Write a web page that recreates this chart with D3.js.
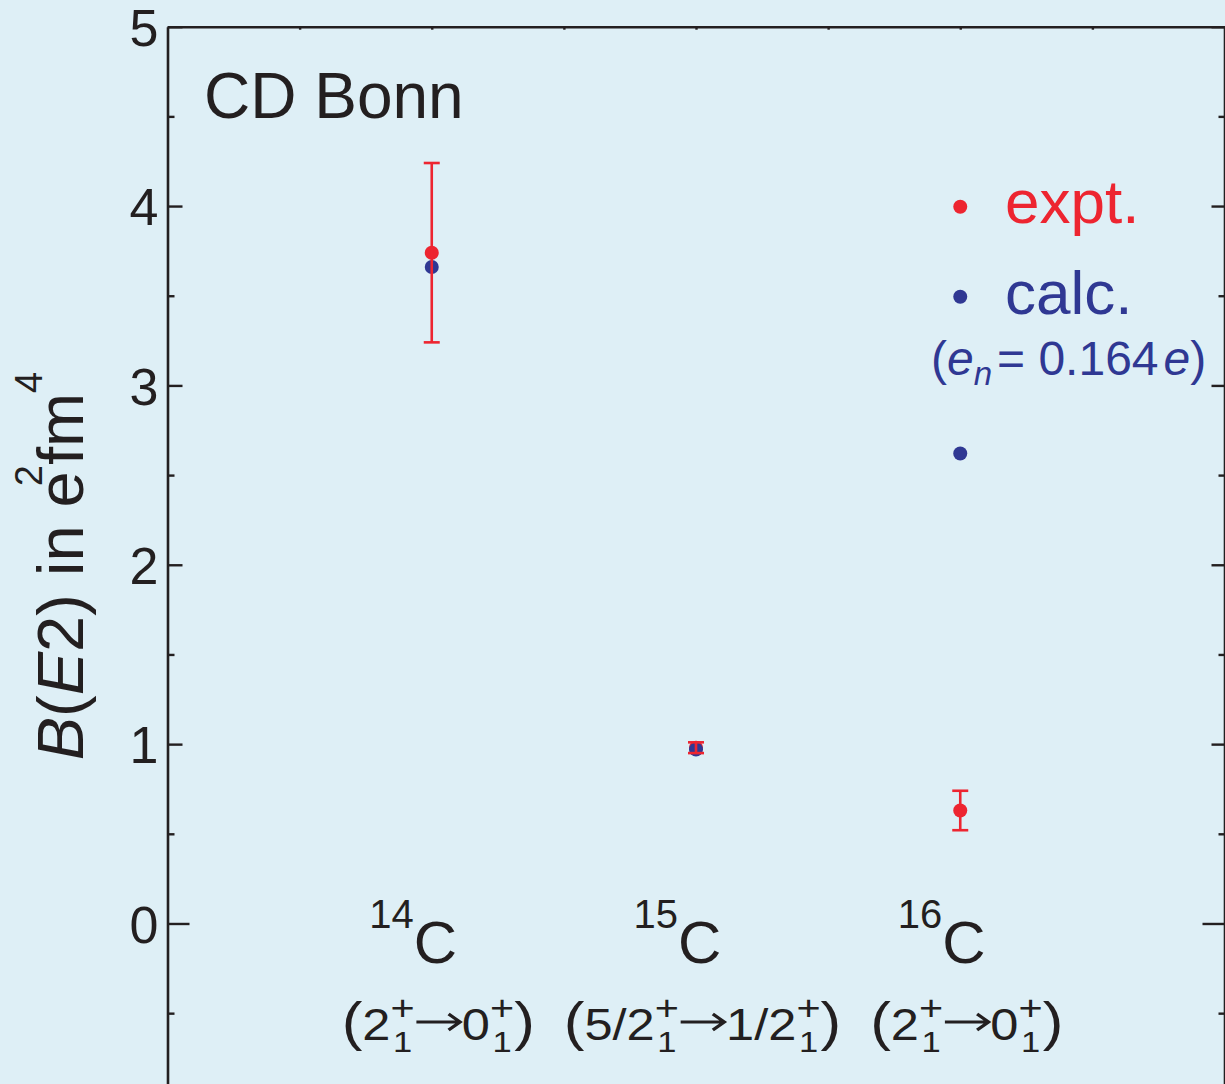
<!DOCTYPE html>
<html>
<head>
<meta charset="utf-8">
<script src="https://cdn.jsdelivr.net/npm/d3@7"></script>
<style>
  html, body { margin: 0; padding: 0; background: #deeff6; }
  svg { display: block; }
  text { font-family: 'Liberation Sans', Arial, Helvetica, sans-serif; }
</style>
</head>
<body>
<script>
// B(E2) values for the carbon isotopes (units: e^2 fm^4)
const massNumbers = ["14", "15", "16"];
const element = "C";
const initialStates = ["2", "5/2", "2"];
const finalStates = ["0", "1/2", "0"];
const exptValues = [3.74, 0.98, 0.63];
const exptErrors = [0.50, 0.03, 0.11];
const calcValues = [3.66, 0.97, 2.62];
const majorTicks = [0, 1, 2, 3, 4, 5];
const minorTicks = [-0.5, 0.5, 1.5, 2.5, 3.5, 4.5];
const topTicks = [0.5, 1, 1.5, 2, 2.5, 3, 3.5];

const W = 1225, H = 1084;
const BG = "#deeff6", INK = "#231f20", RED = "#ed2530", BLUE = "#2f3893";

const svg = d3.select("body").append("svg").attr("width", W).attr("height", H);
svg.append("rect").attr("width", W).attr("height", H).attr("fill", BG);

const x = d3.scaleLinear().domain([0, 4]).range([167.5, 1224.5]);
const y = d3.scaleLinear().domain([-0.9, 5]).range([1084.9, 26.7]);

// Lay out a run of text pieces (super/subscripts, stacked indices, arrows)
// along a baseline and place it centred (or starting) at the given point.
function richText(parent, pieces, px, py, opts = {}) {
  const fill = opts.fill || INK;
  const g = parent.append("g").attr("fill", fill);
  let cursor = 0;
  const put = (p, at, anchor) => {
    const t = g.append("text")
      .attr("x", at + (p.dx || 0))
      .attr("y", p.shift || 0)
      .attr("text-anchor", anchor || "start")
      .style("font-size", p.size + "px")
      .style("font-style", p.italic ? "italic" : "normal")
      .text(p.text);
    return t.node().getComputedTextLength() + (p.dx || 0);
  };
  pieces.forEach(p => {
    if (p.stack) {
      const w = d3.max(p.stack, s => {
        const probe = g.append("text").style("font-size", s.size + "px").text(s.text);
        const len = probe.node().getComputedTextLength();
        probe.remove();
        return len;
      });
      p.stack.forEach(s => put(s, cursor + w / 2, "middle"));
      cursor += w;
    } else if (p.arrow) {
      const x0 = cursor + p.gap, x1 = x0 + p.arrow, ay = p.shift;
      g.append("path")
        .attr("d", `M${x0},${ay}H${x1 - 1}M${x1 - p.head},${ay - p.spread}L${x1},${ay}L${x1 - p.head},${ay + p.spread}`)
        .attr("fill", "none").attr("stroke", fill).attr("stroke-width", p.weight);
      cursor = x1 + p.gap;
    } else {
      cursor += put(p, cursor);
    }
  });
  const sx = opts.scaleX || 1;
  const total = cursor * sx;
  if (opts.rotate) {
    g.attr("transform", `translate(${px},${py}) rotate(${opts.rotate}) translate(${-total / 2},0)`);
  } else {
    const start = opts.anchor === "start" ? px : px - total / 2;
    g.attr("transform", `translate(${start},${py}) scale(${sx},1)`);
  }
  return g;
}

// ---- axes ----
function styleAxis(g) {
  g.selectAll("path.domain").attr("stroke", INK).attr("stroke-width", 2.6);
  g.selectAll(".tick line").attr("stroke", INK).attr("stroke-width", 2.4);
}

// left axis with labels
const leftAxis = svg.append("g").attr("transform", `translate(${x(0)},0)`)
  .call(d3.axisLeft(y).tickValues(majorTicks).tickSizeInner(-15).tickSizeOuter(0)
    .tickPadding(9).tickFormat(d3.format("d")));
styleAxis(leftAxis);
leftAxis.selectAll(".tick text")
  .attr("fill", INK)
  .style("font-size", "52px")
  .style("font-family", "'Liberation Sans', Arial, Helvetica, sans-serif")
  .attr("dy", "0.36em");
leftAxis.selectAll(".tick").filter(d => d === 0).select("line").attr("x2", 22);

const leftMinor = svg.append("g").attr("transform", `translate(${x(0)},0)`)
  .call(d3.axisLeft(y).tickValues(minorTicks).tickSizeInner(-7).tickSizeOuter(0).tickFormat(""));
leftMinor.select("path.domain").remove();
styleAxis(leftMinor);

// right axis (ticks only)
const rightAxis = svg.append("g").attr("transform", `translate(${x(4)},0)`)
  .call(d3.axisRight(y).tickValues(majorTicks).tickSizeInner(-13).tickSizeOuter(0).tickFormat(""));
styleAxis(rightAxis);
rightAxis.selectAll(".tick").filter(d => d === 0).select("line").attr("x2", -22);

const rightMinor = svg.append("g").attr("transform", `translate(${x(4)},0)`)
  .call(d3.axisRight(y).tickValues(minorTicks).tickSizeInner(-6).tickSizeOuter(0).tickFormat(""));
rightMinor.select("path.domain").remove();
styleAxis(rightMinor);

// top frame
const topAxis = svg.append("g").attr("transform", `translate(0,${y(5)})`)
  .call(d3.axisTop(x).tickValues(topTicks).tickSizeInner(-3).tickSizeOuter(0).tickFormat(""));
styleAxis(topAxis);

// ---- y-axis title: B(E2) in e^2 fm^4 ----
richText(svg, [
  { text: "B", size: 65, italic: true },
  { text: "(", size: 65 },
  { text: "E", size: 65, italic: true },
  { text: "2) in e", size: 65 },
  { text: "2", size: 38, shift: -41, dx: -15 },
  { text: "fm", size: 65 },
  { text: "4", size: 38, shift: -41 }
], 83, 566, { rotate: -90 });

// ---- panel title ----
svg.append("text").attr("x", 204).attr("y", 118)
  .attr("fill", INK).style("font-size", "64px").text("CD Bonn");

// ---- legend ----
svg.append("circle").attr("cx", x(3)).attr("cy", 206.7).attr("r", 7).attr("fill", RED);
svg.append("circle").attr("cx", x(3)).attr("cy", 296.7).attr("r", 7).attr("fill", BLUE);
svg.append("text").attr("x", 1005).attr("y", 223).attr("fill", RED)
  .style("font-size", "62px").text("expt.");
svg.append("text").attr("x", 1005).attr("y", 314).attr("fill", BLUE)
  .style("font-size", "62px").text("calc.");
richText(svg, [
  { text: "(", size: 48 },
  { text: "e", size: 48, italic: true },
  { text: "n", size: 33, italic: true, shift: 10 },
  { text: "= 0.164", size: 48, dx: 5 },
  { text: "e", size: 48, italic: true, dx: 5 },
  { text: ")", size: 48 }
], 931, 375, { anchor: "start", fill: BLUE });

// ---- data marks ----
const idx = d3.range(massNumbers.length);
const px = i => x(i + 1);

svg.append("g").selectAll("circle").data(idx).join("circle")
  .attr("cx", px).attr("cy", i => y(exptValues[i])).attr("r", 7).attr("fill", RED);
svg.append("g").selectAll("circle").data(idx).join("circle")
  .attr("cx", px).attr("cy", i => y(calcValues[i])).attr("r", 7).attr("fill", BLUE);

const bars = svg.append("g").attr("stroke", RED).attr("stroke-width", 2.6);
idx.forEach(i => {
  const lo = y(exptValues[i] - exptErrors[i]), hi = y(exptValues[i] + exptErrors[i]);
  bars.append("line").attr("x1", px(i)).attr("x2", px(i)).attr("y1", lo).attr("y2", hi);
  bars.append("line").attr("x1", px(i) - 8).attr("x2", px(i) + 8).attr("y1", lo).attr("y2", lo);
  bars.append("line").attr("x1", px(i) - 8).attr("x2", px(i) + 8).attr("y1", hi).attr("y2", hi);
});

// ---- category labels: nuclide and transition ----
idx.forEach(i => {
  richText(svg, [
    { text: massNumbers[i], size: 40, shift: -35 },
    { text: element, size: 60 }
  ], px(i) - 18.5, 963);
  const stateMark = { stack: [
    { text: "+", size: 36, shift: -20 },
    { text: "1", size: 30, shift: 12 }
  ] };
  richText(svg, [
    { text: "(", size: 54 },
    { text: initialStates[i], size: 44 },
    stateMark,
    { arrow: 38, gap: 1.5, shift: -18, head: 10, spread: 8, weight: 3 },
    { text: finalStates[i], size: 44 },
    stateMark,
    { text: ")", size: 54 }
  ], px(i) + 6.5, 1040, { scaleX: 1.15 });
});
</script>
</body>
</html>
